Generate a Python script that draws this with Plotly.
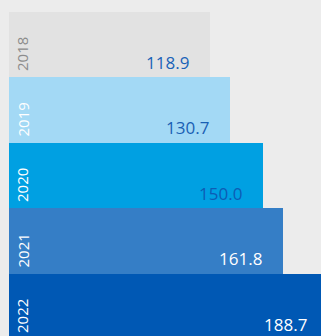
import plotly.graph_objects as go

years = ["2018", "2019", "2020", "2021", "2022"]
values = [118.9, 130.7, 150.0, 161.8, 188.7]
bar_colors = ["#e2e2e2", "#a3d9f5", "#00a0e2", "#357ec6", "#0058b4"]
year_colors = ["#8c8c8c", "#ffffff", "#ffffff", "#ffffff", "#ffffff"]
value_colors = ["#1a62b8", "#1a5fb4", "#0d5cb5", "#ffffff", "#ffffff"]

FONT = "Open Sans"
PX_PER_Y = 65.5     # pixels per category band
PX_PER_X = 1.692    # pixels per value unit
pos = list(range(len(years)))

fig = go.Figure(
    go.Bar(
        x=values,
        y=pos,
        orientation="h",
        width=1,
        marker=dict(color=bar_colors, line=dict(width=0)),
        hoverinfo="skip",
    )
)

annotations = []
for i, (yr, v) in enumerate(zip(years, values)):
    # year label, rotated, sitting near the bottom-left of its band
    annotations.append(dict(
        x=0, y=i + 0.5 - 4 / PX_PER_Y, xref="x", yref="y",
        text=yr, textangle=-90, showarrow=False,
        xanchor="center", yanchor="bottom", xshift=13.5,
        font=dict(family=FONT, size=15, color=year_colors[i]),
    ))
    # value label, right-aligned a little before the end of the bar
    annotations.append(dict(
        x=v - 19 / PX_PER_X, y=i + 0.5 - 15 / PX_PER_Y, xref="x", yref="y",
        text=f"{v:.1f}", showarrow=False,
        xanchor="right", yanchor="middle",
        font=dict(family=FONT, size=17, color=value_colors[i]),
    ))

fig.update_layout(
    width=321, height=336,
    margin=dict(l=9, r=0, t=12, b=0),
    paper_bgcolor="#ececec", plot_bgcolor="#ececec",
    bargap=0, showlegend=False,
    xaxis=dict(range=[0, 184.4], visible=False, fixedrange=True),
    yaxis=dict(range=[4.447, -0.5], visible=False, fixedrange=True),
    annotations=annotations,
)

fig.write_html("out.html", config={"displayModeBar": False})
